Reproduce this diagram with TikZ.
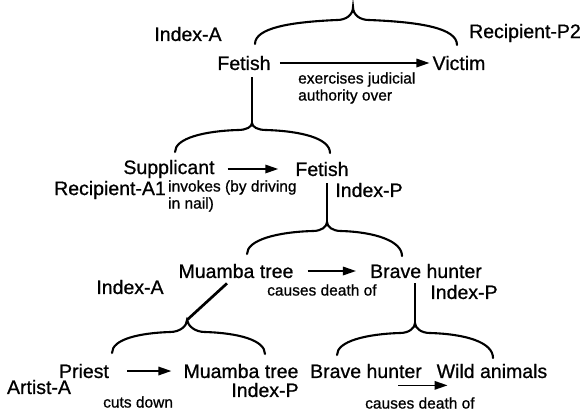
\documentclass[tikz,border=0pt]{standalone}
\usepackage{fontspec}
\setmainfont{Liberation Sans}[FakeBold=0.8]
\usetikzlibrary{arrows.meta}
\newcommand{\mainsize}{\fontsize{19.5}{22}\selectfont}
\newcommand{\notesize}{\fontsize{15.5}{17}\selectfont}

\begin{document}
\begin{tikzpicture}[x=1pt,y=-1pt,
  word/.style={inner sep=0pt,font=\mainsize},
  note/.style={inner sep=0pt,font=\notesize,align=left,anchor=west},
  arr/.style={line width=1.7pt,-{Triangle[length=13pt,width=8.5pt]}},
  bracket/.style={line width=2.1pt,line cap=round},
  stem/.style={line width=2.7pt}]
\useasboundingbox (0,0) rectangle (581,413);
% top: fetish over victim
\node[word] (idxA1) at (188,34) {Index-A};
\node[word,anchor=east] (recP2) at (581,33) {Recipient-P2};
\node[word] (fet1) at (244,63) {Fetish};
\node[word] (vic) at (459,63) {Victim};
\node[note] (exer) at (298,88) {exercises judicial\\authority over};
\draw[arr,shorten <=9pt,shorten >=3pt] (fet1) -- (vic);
\coordinate (t1) at (353,7);
\draw[bracket] (255,44) .. controls (255,28) and (290,22) .. (337,20) .. controls (346,20) and (353,15) .. (t1)
  .. controls (353,15) and (360,20) .. (369,20) .. controls (420,22) and (457,28) .. (457,45);
% supplicant invokes fetish
\node[word] (sup) at (169,169) {Supplicant};
\node[word] (fet2) at (322,169) {Fetish};
\node[word] (recA1) at (110,190) {Recipient-A1};
\node[word] (idxP1) at (369,190) {Index-P};
\node[note] (invk) at (168,196) {invokes (by driving\\in nail)};
\draw[arr,shorten <=13pt,shorten >=17pt] (sup) -- (fet2);
\coordinate (t2) at (252,123);
\draw[stem,shorten <=7pt] (fet1.south -| t2) -- (t2);
\draw[bracket] (175,152) .. controls (175,138) and (205,131) .. (238,130) .. controls (246,130) and (252,127) .. (t2)
  .. controls (252,127) and (258,130) .. (266,130) .. controls (300,131) and (330,138) .. (330,153);
% muamba tree kills brave hunter
\node[word] (mua1) at (236,271) {Muamba tree};
\node[word] (bh1) at (426,271) {Brave hunter};
\node[word] (idxA2) at (130,287) {Index-A};
\node[word] (idxP2) at (464,292) {Index-P};
\node[note] (cause1) at (267,290) {causes death of};
\draw[arr,shorten <=14pt,shorten >=14pt] (mua1) -- (bh1);
\coordinate (t3) at (327,222);
\draw[stem,shorten <=7pt] (fet2.south -| t3) -- (t3);
\draw[bracket] (247,254) .. controls (247,240) and (277,232) .. (313,231) .. controls (321,231) and (327,227) .. (t3)
  .. controls (327,227) and (333,231) .. (341,231) .. controls (375,232) and (402,241) .. (402,256);
% priest cuts down tree
\node[word] (pri) at (84,371) {Priest};
\node[word] (mua2) at (241,371) {Muamba tree};
\node[word] (artA) at (39,387) {Artist-A};
\node[word] (idxP3) at (265,390) {Index-P};
\node[note] (cuts) at (103,402) {cuts down};
\draw[arr,shorten <=18pt,shorten >=12pt] (pri) -- (mua2);
\coordinate (t4) at (187,320);
\draw[stem] ([xshift=-9pt,yshift=-5pt]mua1.south) -- (t4);
\draw[bracket] (112,353) .. controls (112,339) and (140,333) .. (170,332) .. controls (180,332) and (187,326) .. (t4)
  .. controls (188,326) and (195,332) .. (205,332) .. controls (238,333) and (265,340) .. (265,354);
% hunter kills wild animals
\node[word] (bh2) at (366,371) {Brave hunter};
\node[word] (wild) at (492,371) {Wild animals};
\node[note] (cause2) at (365,403) {causes death of};
\draw[arr] ([xshift=-24pt,yshift=-7pt]bh2.south east) -- ([xshift=11pt,yshift=-7pt]wild.south west);
\coordinate (t5) at (415,323);
\draw[stem,shorten <=5pt] (bh1.south -| t5) -- (t5);
\draw[bracket] (337,355) .. controls (337,341) and (367,334) .. (400,333) .. controls (409,333) and (415,328) .. (t5)
  .. controls (415,328) and (421,333) .. (430,333) .. controls (465,334) and (493,342) .. (493,358);
\end{tikzpicture}
\end{document}
